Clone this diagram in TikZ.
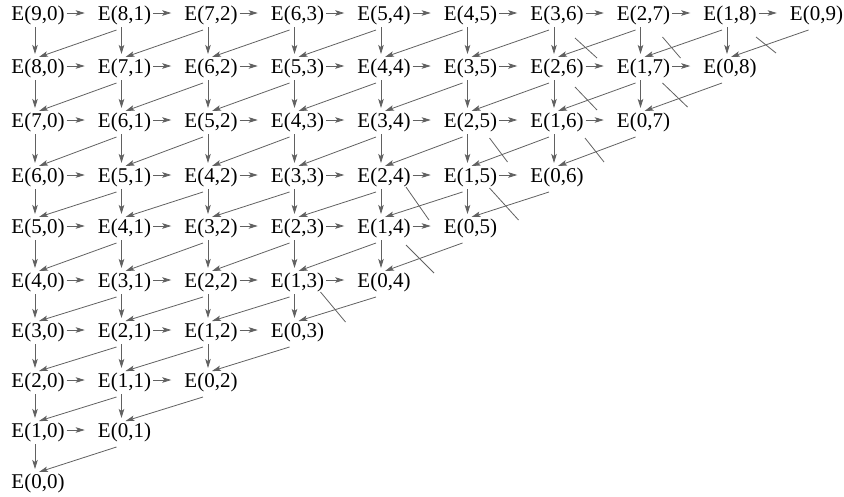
\documentclass[tikz,border=0pt]{standalone}
\usepackage{fontspec}
\setmainfont{Liberation Serif}
\usetikzlibrary{arrows.meta}
\begin{document}
\begin{tikzpicture}[x=1pt,y=1pt,
  lbl/.style={inner sep=0pt, font=\fontsize{21}{21}\selectfont, text=black, text height=14.5pt, text depth=4.5pt},
  conn/.style={draw=black!62, line width=0.8pt, -{Stealth[length=9pt,width=5.5pt,inset=2pt]}},
  tick/.style={draw=black!62, line width=0.8pt}]
\useasboundingbox (0,0) rectangle (844,-496);
\def\rowy{{15,68,122,177,228,282,332,382,432,483}}
% nodes
\foreach \k in {0,...,9}{
  \pgfmathsetmacro\yy{\rowy[\k]}
  \pgfmathtruncatemacro\jmax{9-\k}
  \foreach \j in {0,...,\jmax}{
    \pgfmathtruncatemacro\a{9-\k-\j}
    \node[lbl] (n-\k-\j) at ({38+86.5*\j},{-\yy}) {E(\a,\j)};
  }
}
% connectors
\foreach \k in {0,...,8}{
  \pgfmathtruncatemacro\jmax{9-\k}
  \pgfmathtruncatemacro\kn{\k+1}
  \foreach \j in {0,...,\jmax}{
    \pgfmathtruncatemacro\jn{\j+1}
    \pgfmathtruncatemacro\jp{\j-1}
    \ifnum\j<\jmax
      \draw[conn] ([shift={(2pt,2pt)}]n-\k-\j.east) -- ([shift={(-13pt,2pt)}]n-\k-\jn.west);
      \draw[conn] ([shift={(-3pt,-12pt)}]n-\k-\j.center) -- ([shift={(-3pt,14pt)}]n-\kn-\j.center);
    \fi
    \ifnum\j>0
      \draw[conn] ([shift={(-8pt,-15pt)}]n-\k-\j.center) -- ([shift={(1pt,11pt)}]n-\kn-\jp.center);
    \fi
  }
}
% crossing strokes
\foreach \k/\j/\sx/\sy/\ex/\ey in {0/6/18/23/40/43, 0/7/19/22/37/43, 0/8/26/22/46/38,
  1/6/18/19/40/42, 1/7/19/15/44/39, 2/5/19/16/37/40, 2/6/28/16/47/40,
  3/4/22/10/45/43, 3/5/19/11/48/43, 4/4/22/17/50/45, 5/3/23/10/48/40}{
  \draw[tick] ([shift={(\sx pt,-\sy pt)}]n-\k-\j.center) -- ([shift={(\ex pt,-\ey pt)}]n-\k-\j.center);
}
\end{tikzpicture}
\end{document}
